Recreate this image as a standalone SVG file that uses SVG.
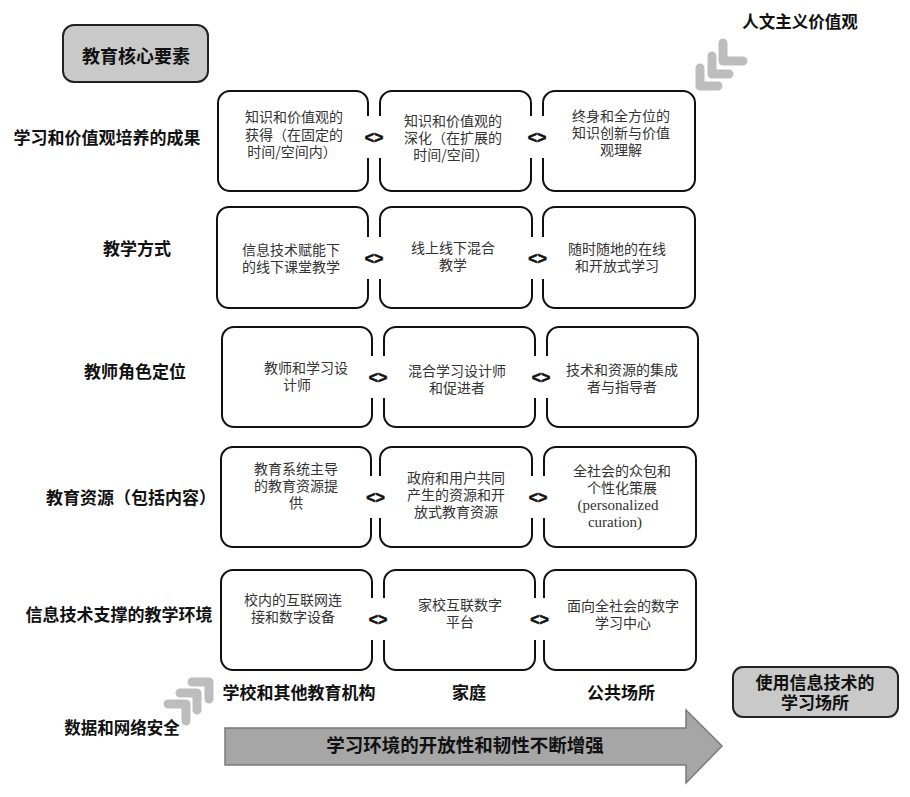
<svg xmlns="http://www.w3.org/2000/svg" width="910" height="797" viewBox="0 0 910 797">
<style>
.box{fill:#fff;stroke:#111;stroke-width:2}
.hdr{fill:#c9c9c9;stroke:#222;stroke-width:2}
.t{font-family:"Noto Sans CJK SC","Liberation Sans",sans-serif;font-size:14px;fill:#333;text-anchor:middle}
.lt{font-family:"Liberation Serif",serif;font-size:15px;fill:#333;text-anchor:middle}
.lab{font-family:"Noto Sans CJK SC","Liberation Sans",sans-serif;font-size:17px;font-weight:bold;fill:#111;text-anchor:middle}
.cv{fill:none;stroke:#bdbdbd;stroke-width:9;stroke-linecap:round;stroke-linejoin:round}
.gap{fill:#fff}
.lr{font-family:"Liberation Sans",sans-serif;font-size:16px;font-weight:bold;fill:#111;stroke:#111;stroke-width:0.6;text-anchor:middle}
</style>
<rect width="910" height="797" fill="#fff"/>

<g id="header-core">
<rect class="hdr" x="63" y="25" width="145" height="57" rx="11"/>
<text class="lab" x="136" y="63" style="font-size:18px">教育核心要素</text>
</g>
<g id="humanism">
<text class="lab" x="800" y="28" style="font-size:16.5px">人文主义价值观</text>
<path class="cv" d="M723,43 V61 H743"/>
<path class="cv" d="M712,56 V74 H729"/>
<path class="cv" d="M700,68 V86 H718"/>
</g>
<g id="security">
<text class="lab" x="122" y="734" style="font-size:16.5px">数据和网络安全</text>
<path class="cv" d="M192,682 H209 V699"/>
<path class="cv" d="M180,693 H197 V710"/>
<path class="cv" d="M168,704 H186 V721"/>
</g>

<g id="row-labels">
<text class="lab" x="107" y="144">学习和价值观培养的成果</text>
<text class="lab" x="137" y="255">教学方式</text>
<text class="lab" x="135" y="378">教师角色定位</text>
<text class="lab" x="131" y="504">教育资源（包括内容）</text>
<text class="lab" x="119" y="621">信息技术支撑的教学环境</text>
</g>

<g id="row1">
<g id="r1c1"><rect class="box" x="218" y="91" width="150" height="100" rx="12"/>
<text class="t" x="294" y="122">知识和价值观的</text><text class="t" x="294" y="139.5">获得（在固定的</text><text class="t" x="292" y="157">时间/空间内）</text></g>
<g id="r1c2"><rect class="box" x="380" y="91" width="151" height="100" rx="12"/>
<text class="t" x="453" y="126">知识和价值观的</text><text class="t" x="453" y="143">深化（在扩展的</text><text class="t" x="451" y="160">时间/空间）</text></g>
<g id="r1c3"><rect class="box" x="543" y="91" width="152" height="100" rx="12"/>
<text class="t" x="621" y="121">终身和全方位的</text><text class="t" x="621" y="138">知识创新与价值</text><text class="t" x="621" y="155">观理解</text></g>
</g>

<g id="row2">
<g id="r2c1"><rect class="box" x="217" y="207" width="151" height="101" rx="12"/>
<text class="t" x="291" y="255">信息技术赋能下</text><text class="t" x="291" y="272">的线下课堂教学</text></g>
<g id="r2c2"><rect class="box" x="380" y="207" width="152" height="101" rx="12"/>
<text class="t" x="453" y="253">线上线下混合</text><text class="t" x="453" y="270">教学</text></g>
<g id="r2c3"><rect class="box" x="543" y="207" width="152" height="101" rx="12"/>
<text class="t" x="617" y="254">随时随地的在线</text><text class="t" x="617" y="271">和开放式学习</text></g>
</g>

<g id="row3">
<g id="r3c1"><rect class="box" x="222" y="327" width="150" height="100" rx="12"/>
<text class="t" x="306" y="373">教师和学习设</text><text class="t" x="297" y="390">计师</text></g>
<g id="r3c2"><rect class="box" x="384" y="327" width="151" height="100" rx="12"/>
<text class="t" x="457" y="376">混合学习设计师</text><text class="t" x="457" y="393">和促进者</text></g>
<g id="r3c3"><rect class="box" x="547" y="327" width="151" height="100" rx="12"/>
<text class="t" x="622" y="375">技术和资源的集成</text><text class="t" x="622" y="392">者与指导者</text></g>
</g>

<g id="row4">
<g id="r4c1"><rect class="box" x="221" y="447" width="150" height="100" rx="12"/>
<text class="t" x="296" y="474">教育系统主导</text><text class="t" x="296" y="491">的教育资源提</text><text class="t" x="296" y="508">供</text></g>
<g id="r4c2"><rect class="box" x="380" y="447" width="152" height="100" rx="12"/>
<text class="t" x="456" y="483">政府和用户共同</text><text class="t" x="456" y="500">产生的资源和开</text><text class="t" x="456" y="517">放式教育资源</text></g>
<g id="r4c3"><rect class="box" x="544" y="447" width="152" height="100" rx="12"/>
<text class="t" x="622" y="476">全社会的众包和</text><text class="t" x="622" y="493">个性化策展</text><text class="lt" x="618" y="510">(personalized</text><text class="lt" x="615" y="527">curation)</text></g>
</g>

<g id="row5">
<g id="r5c1"><rect class="box" x="221" y="570" width="151" height="100" rx="12"/>
<text class="t" x="293" y="605">校内的互联网连</text><text class="t" x="293" y="622">接和数字设备</text></g>
<g id="r5c2"><rect class="box" x="384" y="570" width="151" height="100" rx="12"/>
<text class="t" x="460" y="610">家校互联数字</text><text class="t" x="460" y="627">平台</text></g>
<g id="r5c3"><rect class="box" x="544" y="570" width="152" height="100" rx="12"/>
<text class="t" x="623" y="611">面向全社会的数字</text><text class="t" x="623" y="628">学习中心</text></g>
</g>

<g id="connectors">
<rect class="gap" x="364" y="116" width="20" height="42"/><text class="lr" x="374" y="143">&lt;&gt;</text>
<rect class="gap" x="527" y="116" width="20" height="42"/><text class="lr" x="537" y="143">&lt;&gt;</text>
<rect class="gap" x="364" y="237" width="20" height="42"/><text class="lr" x="374" y="264">&lt;&gt;</text>
<rect class="gap" x="527" y="237" width="21" height="42"/><text class="lr" x="537.5" y="264">&lt;&gt;</text>
<rect class="gap" x="368" y="356" width="20" height="42"/><text class="lr" x="378" y="383">&lt;&gt;</text>
<rect class="gap" x="531" y="356" width="20" height="42"/><text class="lr" x="541" y="383">&lt;&gt;</text>
<rect class="gap" x="367" y="476" width="17" height="42"/><text class="lr" x="375.5" y="503">&lt;&gt;</text>
<rect class="gap" x="528" y="476" width="20" height="42"/><text class="lr" x="538" y="503">&lt;&gt;</text>
<rect class="gap" x="368" y="598" width="20" height="42"/><text class="lr" x="378" y="625">&lt;&gt;</text>
<rect class="gap" x="531" y="598" width="17" height="42"/><text class="lr" x="539.5" y="625">&lt;&gt;</text>
</g>

<g id="places">
<text class="lab" x="299" y="699">学校和其他教育机构</text>
<text class="lab" x="469" y="699">家庭</text>
<text class="lab" x="621" y="699">公共场所</text>
</g>
<g id="header-places">
<rect class="hdr" x="733" y="667" width="165" height="50" rx="10"/>
<text class="lab" x="815" y="689" style="font-size:17px">使用信息技术的</text>
<text class="lab" x="815" y="709" style="font-size:17px">学习场所</text>
</g>
<g id="openness-arrow">
<polygon points="225,728 686,728 686,710 722,746 686,783 686,765 225,765" fill="#a6a6a6" stroke="#7a7a7a" stroke-width="1.5"/>
<text class="lab" x="465" y="752" style="font-size:18.5px">学习环境的开放性和韧性不断增强</text>
</g>
</svg>
